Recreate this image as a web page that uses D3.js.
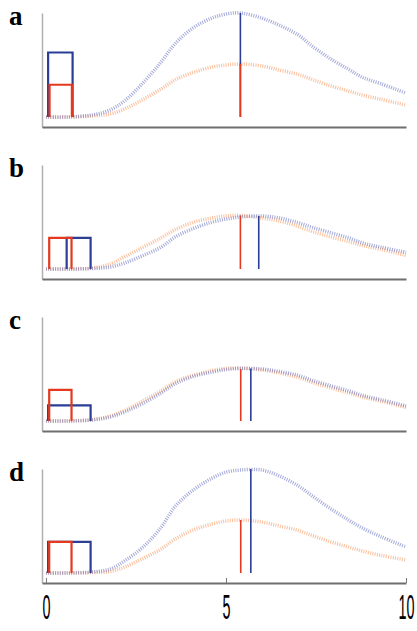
<!DOCTYPE html>
<html>
<head>
<meta charset="utf-8">
<script src="https://cdn.jsdelivr.net/npm/d3@7"></script>
<style>
  body { margin: 0; background: #fff; }
  svg { display: block; }
</style>
</head>
<body>
<div class="chart"></div>
<script>
// sample positions shared by all curves
const xs = [0, 0.6, 1.3, 1.8, 2.2, 2.7, 3.2, 3.6, 4.1, 4.6, 5.0, 5.4, 6.0, 6.5, 7.0, 7.4, 7.9, 8.4, 8.8, 9.3, 10];

const panelLabels = ['a', 'b', 'c', 'd'];

// dotted curves (blue / orange) per panel
const blueCurves = [
  [0, 0, 0.02, 0.07, 0.16, 0.33, 0.53, 0.71, 0.86, 0.95, 0.99, 1.0, 0.95, 0.88, 0.79, 0.68, 0.56, 0.46, 0.38, 0.32, 0.23],
  [0, 0, 0.005, 0.02, 0.06, 0.13, 0.21, 0.31, 0.39, 0.45, 0.48, 0.50, 0.51, 0.49, 0.445, 0.40, 0.35, 0.30, 0.25, 0.21, 0.16],
  [0, 0, 0.01, 0.04, 0.09, 0.17, 0.27, 0.36, 0.43, 0.47, 0.495, 0.505, 0.50, 0.475, 0.44, 0.39, 0.34, 0.29, 0.245, 0.205, 0.145],
  [0, 0, 0.01, 0.04, 0.12, 0.25, 0.44, 0.645, 0.80, 0.91, 0.97, 0.99, 0.99, 0.93, 0.84, 0.74, 0.62, 0.51, 0.43, 0.35, 0.25]
];
const orangeCurves = [
  [0, 0, 0.01, 0.03, 0.08, 0.17, 0.27, 0.36, 0.43, 0.48, 0.50, 0.51, 0.49, 0.45, 0.41, 0.36, 0.30, 0.25, 0.21, 0.17, 0.115],
  [0, 0, 0.01, 0.05, 0.12, 0.21, 0.30, 0.38, 0.45, 0.49, 0.51, 0.515, 0.49, 0.46, 0.41, 0.36, 0.31, 0.265, 0.225, 0.19, 0.13],
  [0, 0, 0.015, 0.05, 0.105, 0.195, 0.29, 0.38, 0.44, 0.485, 0.505, 0.51, 0.49, 0.46, 0.42, 0.37, 0.32, 0.27, 0.23, 0.19, 0.13],
  [0, 0, 0.005, 0.015, 0.06, 0.14, 0.23, 0.33, 0.415, 0.47, 0.50, 0.51, 0.49, 0.45, 0.41, 0.36, 0.30, 0.25, 0.21, 0.17, 0.125]
];

// boxes: [start, end, height]
const blueBoxes = [[0.06, 0.74, 0.62], [0.575, 1.24, 0.30], [0.06, 1.24, 0.15], [0.06, 1.24, 0.30]];
const redBoxes = [[0.1, 0.72, 0.31], [0.09, 0.71, 0.30], [0.09, 0.71, 0.30], [0.09, 0.71, 0.30]];

// vertical markers: [position, height]
const blueMarks = [[5.4, 1.0], [5.91, 0.51], [5.69, 0.505], [5.69, 1.0]];
const redMarks = [[5.4, 0.51], [5.4, 0.515], [5.41, 0.50], [5.41, 0.51]];

const xTicks = [0, 5, 10];

const w = 417;
const h = 631;
const panelTops = [13, 165, 317, 469];
const panelH = 114;

const svg = d3.select('.chart')
  .append('svg')
  .attr('width', w)
  .attr('height', h);

const x = d3.scaleLinear()
  .domain([-0.11, 10])
  .range([42, 406]);

const line = d3.line().curve(d3.curveCatmullRom.alpha(0.5));

panelLabels.forEach((label, i) => {
  const top = panelTops[i];
  const y = d3.scaleLinear()
    .domain([-10 / 104, 1])
    .range([top + panelH, top]);

  const g = svg.append('g').attr('class', 'panel');

  line.x((d) => x(d[0])).y((d) => y(Math.max(0, d[1])));

  // axes
  g.append('g')
    .attr('transform', `translate(${x(-0.11)}, 0)`)
    .call(d3.axisLeft(y).tickValues([]).tickSizeOuter(0))
    .call((a) => a.select('.domain').attr('stroke', '#b0b0b0').attr('stroke-width', 1.5));

  const bottom = g.append('g')
    .attr('transform', `translate(0, ${top + panelH})`)
    .call(d3.axisBottom(x)
      .tickValues(i === 3 ? xTicks : [])
      .tickSizeInner(-5)
      .tickSizeOuter(0)
      .tickFormat(d3.format('d')));
  bottom.select('.domain').attr('stroke', '#6e6e6e').attr('stroke-width', 2);
  bottom.selectAll('.tick line').attr('stroke', '#777').attr('stroke-width', 1);
  bottom.selectAll('.tick text')
    .attr('y', 24.8)
    .attr('dy', 0)
    .attr('transform', 'scale(0.6,1.45)')
    .style('font-family', '"Liberation Sans", Arial, sans-serif')
    .style('font-size', '24px')
    .attr('fill', '#000');

  // dotted curves
  g.append('path')
    .datum(xs.map((v, k) => [v, orangeCurves[i][k]]))
    .attr('d', line)
    .attr('fill', 'none')
    .attr('stroke', '#f5955c')
    .attr('stroke-opacity', 0.6)
    .attr('stroke-width', 3.5)
    .attr('stroke-dasharray', '1 1.3');

  g.append('path')
    .datum(xs.map((v, k) => [v, blueCurves[i][k]]))
    .attr('d', line)
    .attr('fill', 'none')
    .attr('stroke', '#6670c0')
    .attr('stroke-opacity', 0.6)
    .attr('stroke-width', 3.5)
    .attr('stroke-dasharray', '1 1.3');

  // boxes (blue first, red over it)
  [[blueBoxes[i], '#2b3e95'], [redBoxes[i], '#e5391f']].forEach(([b, c]) => {
    g.append('path')
      .datum([[b[0], 0], [b[0], b[2]], [b[1], b[2]], [b[1], 0]])
      .attr('d', d3.line().x((d) => x(d[0])).y((d) => y(d[1])))
      .attr('fill', 'none')
      .attr('stroke', c)
      .attr('stroke-width', 2.2)
      .attr('stroke-linejoin', 'miter');
  });

  // vertical markers
  [[blueMarks[i], '#2b3e95'], [redMarks[i], '#e5391f']].forEach(([m, c]) => {
    g.append('line')
      .attr('x1', x(m[0]))
      .attr('x2', x(m[0]))
      .attr('y1', y(0))
      .attr('y2', y(m[1]))
      .attr('stroke', c)
      .attr('stroke-width', 1.6);
  });

  // panel letter
  svg.append('text')
    .attr('x', 9)
    .attr('y', top + 12)
    .text(label)
    .style('font-family', '"Liberation Serif", "Times New Roman", serif')
    .style('font-weight', 'bold')
    .style('font-size', '27px');
});
</script>
</body>
</html>
